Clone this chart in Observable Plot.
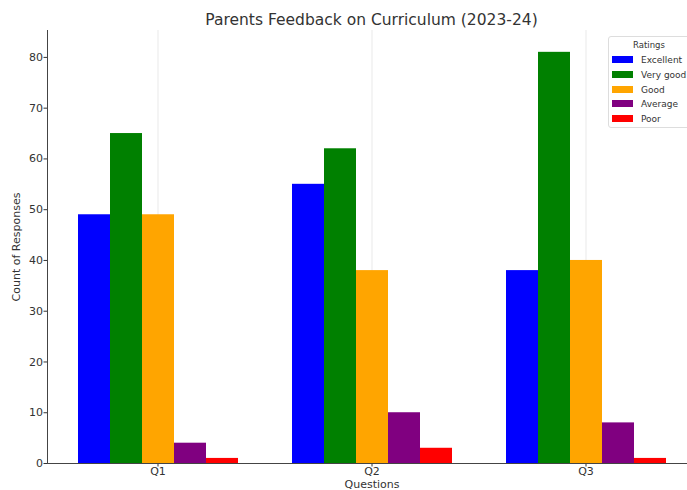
<!DOCTYPE html>
<html><head><meta charset="utf-8">
<script src="https://cdn.jsdelivr.net/npm/d3@7"></script>
<script src="https://cdn.jsdelivr.net/npm/@observablehq/plot@0.6"></script>
<style>
html,body{margin:0;padding:0;background:#fff;overflow:hidden;}
#wrap{position:relative;width:687px;height:490px;overflow:hidden;font-family:"DejaVu Sans",sans-serif;color:#333;}
#title{position:absolute;top:11px;left:0;width:743px;text-align:center;font-size:15.5px;line-height:18px;color:#333;}
#chart{position:absolute;top:0;left:0;width:697px;}
#chart svg{max-width:none !important;}
#legend{position:absolute;left:608px;top:36px;width:88px;height:90px;border:1px solid #ddd;border-radius:3px;background:rgba(255,255,255,0.85);font-size:9px;color:#333;}
#legend .lt{position:absolute;left:0;width:80px;top:3px;text-align:center;font-size:8.5px;}
#legend .row{position:absolute;left:3px;height:12px;line-height:12px;white-space:nowrap;}
#legend .sw{display:inline-block;width:21px;height:7px;vertical-align:middle;margin-right:8px;margin-top:-2px;}
</style></head>
<body>
<div id="wrap">
  <div id="chart"></div>
  <div id="title">Parents Feedback on Curriculum (2023-24)</div>
  <div id="legend"></div>
</div>
<script>
const questions = ["Q1", "Q2", "Q3"];
const ratings = ["Excellent", "Very good", "Good", "Average", "Poor"];
const colors = ["#0000ff", "#008000", "#ffa500", "#800080", "#ff0000"];
const excellent = [49, 55, 38];
const veryGood = [65, 62, 81];
const good = [49, 38, 40];
const average = [4, 10, 8];
const poor = [1, 3, 1];
const yTicks = [0, 10, 20, 30, 40, 50, 60, 70, 80];

const series = [excellent, veryGood, good, average, poor];
const rows = [];
questions.forEach((q, qi) => ratings.forEach((r, ri) => rows.push({question: q, rating: r, count: series[ri][qi]})));

const chart = Plot.plot({
  width: 697, height: 490,
  marginTop: 30, marginBottom: 27, marginLeft: 46, marginRight: 0,
  style: {fontFamily: "DejaVu Sans", fontSize: "11px", color: "#333", background: "transparent", maxWidth: "none"},
  fx: {domain: questions, paddingInner: 0.25, paddingOuter: 0.139, label: "Questions", labelAnchor: "center", labelOffset: 24, labelArrow: "none", tickSize: 3.5, tickPadding: 0, grid: true},
  x: {domain: ratings, padding: 0, axis: null},
  y: {domain: [0, 85.3], axis: null},
  color: {domain: ratings, range: colors},
  marks: [
    Plot.barY(rows, {fx: "question", x: "rating", y: "count", fill: "rating"}),
    Plot.axisY({ticks: yTicks, tickSize: 3.5, tickPadding: 1, label: "Count of Responses", labelAnchor: "center", labelOffset: 65, labelArrow: "none", dx: -30, facetAnchor: "left"}),
    Plot.frame({anchor: "left", facetAnchor: "left", dx: -30, stroke: "#444"}),
    Plot.ruleY([0], {stroke: "#444", insetLeft: -30, insetRight: -30})
  ]
});
document.getElementById("chart").appendChild(chart);

const lg = document.getElementById("legend");
const t = document.createElement("div"); t.className = "lt"; t.textContent = "Ratings"; lg.appendChild(t);
ratings.forEach((r, i) => {
  const row = document.createElement("div");
  row.className = "row";
  row.style.top = (17 + i * 14.8) + "px";
  row.innerHTML = `<span class="sw" style="background:${colors[i]}"></span>${r}`;
  lg.appendChild(row);
});
</script>
</body></html>
